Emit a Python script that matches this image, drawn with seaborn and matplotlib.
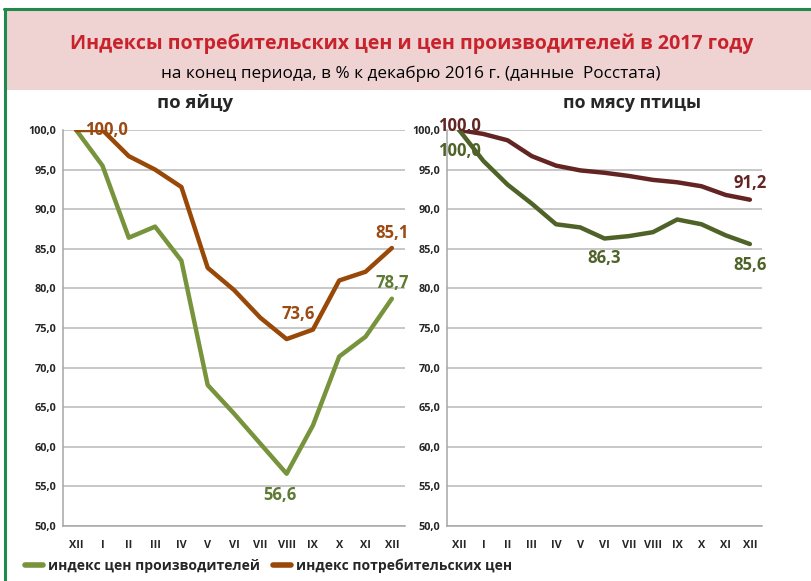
import matplotlib
matplotlib.use("Agg")
import matplotlib.pyplot as plt
from matplotlib import font_manager
from matplotlib.lines import Line2D
from matplotlib.patches import Rectangle
import seaborn as sns
import pandas as pd

months = ["XII", "I", "II", "III", "IV", "V", "VI", "VII", "VIII", "IX", "X", "XI", "XII"]

egg_producer = [100.0, 95.5, 86.4, 87.8, 83.5, 67.8, 64.2, 60.4, 56.6, 62.7, 71.4, 73.9, 78.7]
egg_consumer = [100.0, 100.0, 96.7, 95.0, 92.8, 82.6, 79.8, 76.3, 73.6, 74.8, 81.0, 82.1, 85.1]

poultry_producer = [100.0, 96.1, 93.1, 90.7, 88.1, 87.7, 86.3, 86.6, 87.1, 88.7, 88.1, 86.7, 85.6]
poultry_consumer = [100.0, 99.5, 98.7, 96.7, 95.5, 94.9, 94.6, 94.2, 93.7, 93.4, 92.9, 91.8, 91.2]

title = "Индексы потребительских цен и цен производителей в 2017 году"
subtitle = "на конец периода, в % к декабрю 2016 г. (данные  Росстата)"
panel_titles = ["по яйцу", "по мясу птицы"]
legend_labels = ["индекс цен производителей", "индекс потребительских цен"]

sns.set_theme(style="white")
avail = {f.name for f in font_manager.fontManager.ttflist}
fam = "Liberation Sans Narrow" if "Liberation Sans Narrow" in avail else "Open Sans"
plt.rcParams["font.family"] = [fam, "DejaVu Sans"]

W, H = 811, 581
fig = plt.figure(figsize=(W / 100, H / 100), dpi=100)
fig.patch.set_facecolor("white")

def px(x0, y0, x1, y1):
    return [x0 / W, 1 - y1 / H, (x1 - x0) / W, (y1 - y0) / H]

# header band and border
fig.patches.append(Rectangle((6 / W, 1 - 90 / H), (W - 6) / W, 80 / H,
                             transform=fig.transFigure, facecolor="#EFD3D3", edgecolor="none", zorder=0))
fig.lines.append(Line2D([4 / W, 1], [1 - 9 / H, 1 - 9 / H], transform=fig.transFigure,
                        color="#1F8A4C", lw=2.2))
fig.lines.append(Line2D([5 / W, 5 / W], [0, 1 - 9 / H], transform=fig.transFigure,
                        color="#1F8A4C", lw=2.2))

fig.text(412 / W, 1 - 44 / H, title, ha="center", va="center", color="#C8222C",
         fontsize=14.1, fontweight="bold")
fig.text(411 / W, 1 - 74 / H, subtitle, ha="center", va="center", color="black", fontsize=12.3)

ax1 = fig.add_axes(px(63, 130, 405, 526))
ax2 = fig.add_axes(px(447, 130, 762, 526))

x = list(range(len(months)))

def setup(ax, ptitle, tx, fs):
    ax.set_xlim(-0.5, len(months) - 0.5)
    ax.set_ylim(50, 100)
    ax.set_yticks([50 + 5 * i for i in range(11)])
    ax.set_yticklabels([f"{50 + 5 * i:.1f}".replace(".", ",") for i in range(11)],
                       fontsize=7.8, fontweight="bold")
    ax.set_xticks(x)
    ax.set_xticklabels(months, fontsize=7.8, fontweight="bold")
    ax.set_xticks([i - 0.5 for i in range(len(months) + 1)], minor=True)
    ax.tick_params(axis="x", which="major", length=0, pad=10)
    ax.tick_params(axis="x", which="minor", length=4, color="#A6A6A6", width=1, direction="out")
    ax.tick_params(axis="y", length=0, pad=5)
    ax.grid(axis="y", color="#B8B8B8", lw=1.1)
    ax.set_axisbelow(True)
    for s in ["top", "right"]:
        ax.spines[s].set_visible(False)
    for s in ["left", "bottom"]:
        ax.spines[s].set_color("#A6A6A6")
        ax.spines[s].set_linewidth(1.1)
    ax.set_xlabel("")
    ax.set_ylabel("")
    fig.text(tx / W, 1 - 103 / H, ptitle, ha="center", va="center", fontsize=fs, fontweight="bold")

# left panel
g1, b1 = "#77933C", "#984807"
df1 = pd.DataFrame({"x": x, "p": egg_producer, "c": egg_consumer})
sns.lineplot(data=df1, x="x", y="p", ax=ax1, color=g1, lw=3.2, legend=False)
sns.lineplot(data=df1, x="x", y="c", ax=ax1, color=b1, lw=3.2, legend=False)
setup(ax1, panel_titles[0], 195, 13.3)
def lab(ax, xi, yv, txt, color, dx, dy):
    ax.annotate(txt, (xi, yv), xytext=(dx, dy), textcoords="offset points",
                ha="center", va="center", color=color, fontsize=12, fontweight="bold")
gl1, bl1 = "#5F7A33", "#9A4A12"
lab(ax1, 0, egg_consumer[0], "100,0", bl1, 22, 0)
lab(ax1, 12, egg_consumer[12], "85,1", bl1, 0, 11)
lab(ax1, 12, egg_producer[12], "78,7", gl1, 0, 11)
lab(ax1, 8, egg_consumer[8], "73,6", bl1, 8, 18)
lab(ax1, 8, egg_producer[8], "56,6", gl1, -5, -15)

# right panel
g2, b2 = "#4F6228", "#632523"
df2 = pd.DataFrame({"x": x, "p": poultry_producer, "c": poultry_consumer})
sns.lineplot(data=df2, x="x", y="c", ax=ax2, color=b2, lw=3.2, legend=False)
sns.lineplot(data=df2, x="x", y="p", ax=ax2, color=g2, lw=3.2, legend=False)
setup(ax2, panel_titles[1], 632, 12.8)
lab(ax2, 0, poultry_consumer[0], "100,0", b2, 0, 3)
lab(ax2, 0, poultry_producer[0], "100,0", g2, 0, -15)
lab(ax2, 6, poultry_producer[6], "86,3", g2, 0, -14)
lab(ax2, 12, poultry_consumer[12], "91,2", b2, 0, 12)
lab(ax2, 12, poultry_producer[12], "85,6", g2, 0, -15)

handles = [Line2D([], [], color=g1, lw=4), Line2D([], [], color=b1, lw=4)]
fig.legend(handles, legend_labels, loc="center left", bbox_to_anchor=(12 / W, 1 - 566 / H),
           ncol=2, frameon=False, handlelength=1.3, handletextpad=0.4, columnspacing=0.9,
           prop={"weight": "bold", "size": 10})

fig.savefig("out.png", dpi=100, facecolor="white")
